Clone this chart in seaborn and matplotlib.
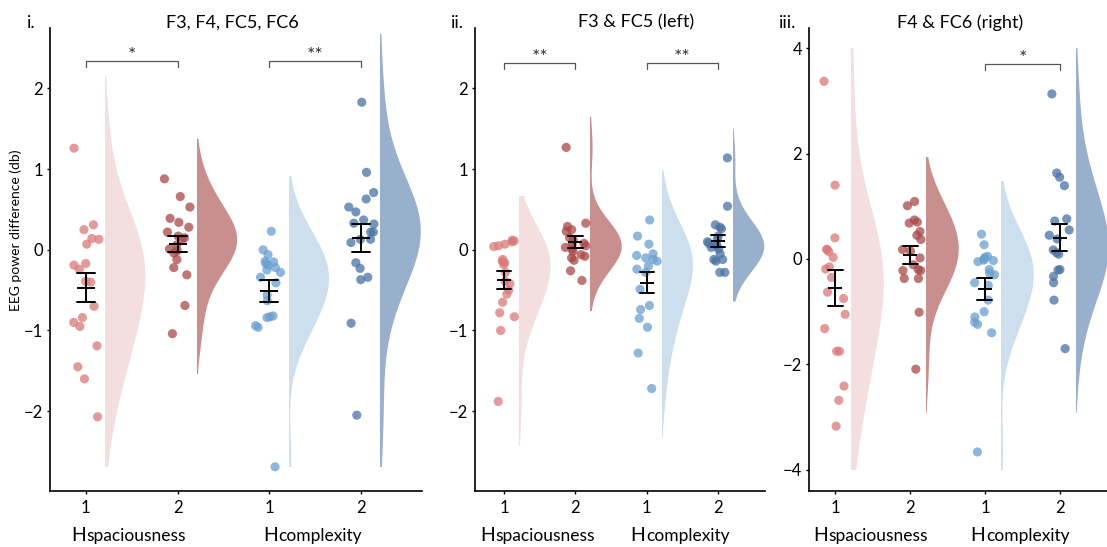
import numpy as np
import pandas as pd
import matplotlib
matplotlib.use("Agg")
import matplotlib.pyplot as plt
import matplotlib.transforms as mtransforms
from matplotlib.patches import Rectangle
from matplotlib.offsetbox import TextArea, HPacker, AnnotationBbox
import seaborn as sns

# ---------------- data ----------------
group_labels = ["spaciousness 1", "spaciousness 2", "complexity 1", "complexity 2"]
tick_labels = ["1", "2", "1", "2"]
factor_names = ["spaciousness", "complexity"]
panel_titles = ["F3, F4, FC5, FC6", "F3 & FC5 (left)", "F4 & FC6 (right)"]
panel_tags = ["i.", "ii.", "iii."]
y_label = "EEG power difference (db)"

i_spac1 = [1.26, 0.31, 0.25, 0.14, 0.13, 0.07, -0.17, -0.19, -0.24, -0.39, -0.40,
           -0.70, -0.84, -0.90, -0.95, -1.19, -1.45, -1.60, -2.07]
i_spac2 = [0.88, 0.66, 0.53, 0.39, 0.34, 0.28, 0.22, 0.17, 0.15, 0.13, 0.06, 0.01,
           -0.01, -0.04, -0.12, -0.22, -0.31, -0.69, -1.04]
i_comp1 = [0.23, 0.00, -0.06, -0.14, -0.15, -0.17, -0.19, -0.22, -0.25, -0.28, -0.34,
           -0.41, -0.56, -0.63, -0.82, -0.83, -0.84, -0.94, -0.96, -2.69]
i_comp2 = [1.83, 0.96, 0.71, 0.63, 0.53, 0.47, 0.37, 0.33, 0.32, 0.22, 0.22, 0.13,
           0.13, 0.09, -0.16, -0.23, -0.34, -0.37, -0.91, -2.05]

ii_spac1 = [0.12, 0.11, 0.10, 0.07, 0.05, 0.04, -0.12, -0.14, -0.16, -0.18, -0.28,
            -0.39, -0.42, -0.50, -0.55, -0.65, -0.78, -0.83, -1.00, -1.88]
ii_spac2 = [1.27, 0.33, 0.29, 0.25, 0.23, 0.15, 0.12, 0.08, 0.07, 0.05, 0.03, 0.01,
            -0.02, -0.06, -0.08, -0.10, -0.13, -0.26, -0.38]
ii_comp1 = [0.37, 0.17, 0.07, -0.05, -0.07, -0.10, -0.12, -0.14, -0.20, -0.24, -0.28,
            -0.49, -0.69, -0.74, -0.85, -0.96, -1.28, -1.72]
ii_comp2 = [1.14, 0.54, 0.31, 0.28, 0.26, 0.17, 0.13, 0.10, 0.08, 0.06, 0.05, 0.03,
            0.01, -0.05, -0.12, -0.12, -0.14, -0.28, -0.28]

iii_spac1 = [3.37, 1.40, 0.40, 0.18, 0.18, 0.14, 0.03, -0.15, -0.19, -0.35, -0.63,
             -0.75, -1.05, -1.32, -1.75, -1.75, -2.41, -2.68, -3.17]
iii_spac2 = [1.09, 1.01, 0.74, 0.70, 0.68, 0.52, 0.45, 0.37, 0.18, 0.15, 0.02, -0.11,
             -0.20, -0.22, -0.22, -0.37, -0.37, -1.01, -2.09]
iii_comp1 = [0.47, 0.27, 0.05, 0.03, 0.00, -0.02, -0.03, -0.05, -0.20, -0.27, -0.30,
             -0.45, -0.50, -0.78, -1.00, -1.10, -1.20, -1.24, -1.40, -3.66]
iii_comp2 = [3.13, 1.63, 1.55, 1.39, 0.76, 0.72, 0.55, 0.45, 0.38, 0.17, 0.12, 0.09,
             -0.20, -0.21, -0.33, -0.45, -0.78, -1.70]

panel_values = [
    [i_spac1, i_spac2, i_comp1, i_comp2],
    [ii_spac1, ii_spac2, ii_comp1, ii_comp2],
    [iii_spac1, iii_spac2, iii_comp1, iii_comp2],
]
yticks_i = [-2, -1, 0, 1, 2]
yticks_ii = [-2, -1, 0, 1, 2]
yticks_iii = [-4, -2, 0, 2, 4]
significance = [
    [(0, 1, "*"), (2, 3, "**")],
    [(0, 1, "**"), (2, 3, "**")],
    [(2, 3, "*")],
]

# ---------------- style ----------------
violin_colors = ["#f3dfdf", "#c98f8f", "#cddeec", "#98b0cb"]
point_colors = ["#d9797a", "#a84848", "#6a9fcf", "#4a72a3"]

sns.set_style("ticks")
plt.rcParams["font.family"] = ["Lato", "DejaVu Sans"]
plt.rcParams["axes.linewidth"] = 1.2

W, H = 1107, 547
fig = plt.figure(figsize=(W / 100, H / 100), dpi=100)

# axes rectangles in pixels: (left, right); top=28, bottom=491
ax_px = [(50, 421.7), (475, 765), (809, 1107)]
top_px, bot_px = 28, 491
xlims = [(-0.389, 3.66), (-0.41, 3.66), (-0.347, 3.627)]
ylims = [(-2.99, 2.75), (-2.99, 2.75), (-4.40, 4.38)]
yticks_all = [yticks_i, yticks_ii, yticks_iii]
vclips = [(-2.69, 20), (-20, 20), (-4.0, 4.0)]
bracket_y = [2.34, 2.31, 3.70]
bracket_drop = [0.07, 0.07, 0.11]
title_x_px = [232, 636, 960]
tag_x_px = [27, 451, 779]
title_y_px = 22.7

for p in range(3):
    l, r = ax_px[p]
    ax = fig.add_axes([l / W, 1 - bot_px / H, (r - l) / W, (bot_px - top_px) / H])
    vals = panel_values[p]
    df = pd.DataFrame({
        "group": np.repeat(np.arange(4), [len(v) for v in vals]),
        "label": np.repeat(group_labels, [len(v) for v in vals]),
        "value": np.concatenate([np.asarray(v, float) for v in vals]),
    })
    df["vpos"] = df["group"] + 0.21

    before = set(ax.collections)
    sns.violinplot(data=df, x="vpos", y="value", hue="label", hue_order=group_labels,
                   palette=violin_colors, native_scale=True, dodge=False, inner=None,
                   density_norm="width", width=0.88, linewidth=0, cut=1.5,
                   bw_adjust=1.35, saturation=1, legend=False, ax=ax)
    lo, hi = vclips[p]
    for coll in ax.collections:
        if coll in before:
            continue
        verts = np.concatenate([pp.vertices for pp in coll.get_paths()])
        xc = (verts[:, 0].min() + verts[:, 0].max()) / 2
        rect = Rectangle((xc, lo), 5, hi - lo, transform=ax.transData)
        coll.set_clip_path(rect)
        coll.set_edgecolor("none")
        coll.set_zorder(1)

    np.random.seed(7 + p)
    sns.stripplot(data=df, x="group", y="value", hue="label", hue_order=group_labels,
                  palette=point_colors, native_scale=True, dodge=False, jitter=0.15,
                  size=6.6, alpha=0.75, linewidth=0, legend=False, ax=ax, zorder=3)

    px_per_unit = (r - l) / (xlims[p][1] - xlims[p][0])
    ms = 0.2 * px_per_unit * 72 / 100
    sns.pointplot(data=df, x="group", y="value", native_scale=True, errorbar="se",
                  color="black", marker="_", markersize=ms, markeredgewidth=1.4,
                  linestyle="none", capsize=0.2,
                  err_kws={"linewidth": 1.4, "zorder": 5}, ax=ax, zorder=5)

    ax.set_xlim(xlims[p])
    ax.set_ylim(ylims[p])
    ax.set_xticks(range(4))
    ax.set_xticklabels(tick_labels)
    ax.set_yticks(yticks_all[p])
    ax.set_xlabel("")
    ax.set_ylabel("")
    sns.despine(ax=ax)
    for s in ["left", "bottom"]:
        ax.spines[s].set_color("black")
        ax.spines[s].set_linewidth(1.2)
    ax.tick_params(axis="x", length=2.5, width=1, pad=4, labelsize=12, colors="black")
    ax.tick_params(axis="y", length=2.5, width=1, pad=2.5, labelsize=12, colors="black")

    # significance brackets
    by, dr = bracket_y[p], bracket_drop[p]
    for a, b, s in significance[p]:
        ax.plot([a, a, b, b], [by - dr, by, by, by - dr], color="#555555", lw=0.9,
                clip_on=False, zorder=6)
        ax.annotate(s, ((a + b) / 2, by), xytext=(0, 0), textcoords="offset points",
                    ha="center", va="baseline", fontsize=14, color="#333333")

    # group labels H_spaciousness / H_complexity
    trans = mtransforms.blended_transform_factory(ax.transData, ax.transAxes)
    for center, name in zip([0.47, 2.47], factor_names):
        box = HPacker(children=[TextArea("H", textprops=dict(fontsize=14, color="black")),
                                TextArea(name, textprops=dict(fontsize=12.5, color="black"))],
                      align="baseline", pad=0, sep=0.5)
        ab = AnnotationBbox(box, (center, -0.097), xycoords=trans, frameon=False,
                            box_alignment=(0.5, 0.5), annotation_clip=False)
        ax.add_artist(ab)

    fig.text(title_x_px[p] / W, 1 - title_y_px / H, panel_titles[p], ha="center",
             va="center", fontsize=13, color="black")
    fig.text(tag_x_px[p] / W, 1 - title_y_px / H, panel_tags[p], ha="left",
             va="center", fontsize=13, color="black")

    if p == 0:
        ax.text(-0.092, 0.564, y_label, transform=ax.transAxes, rotation=90,
                ha="center", va="center", fontsize=10, color="black")

fig.savefig("out.png", dpi=100)
